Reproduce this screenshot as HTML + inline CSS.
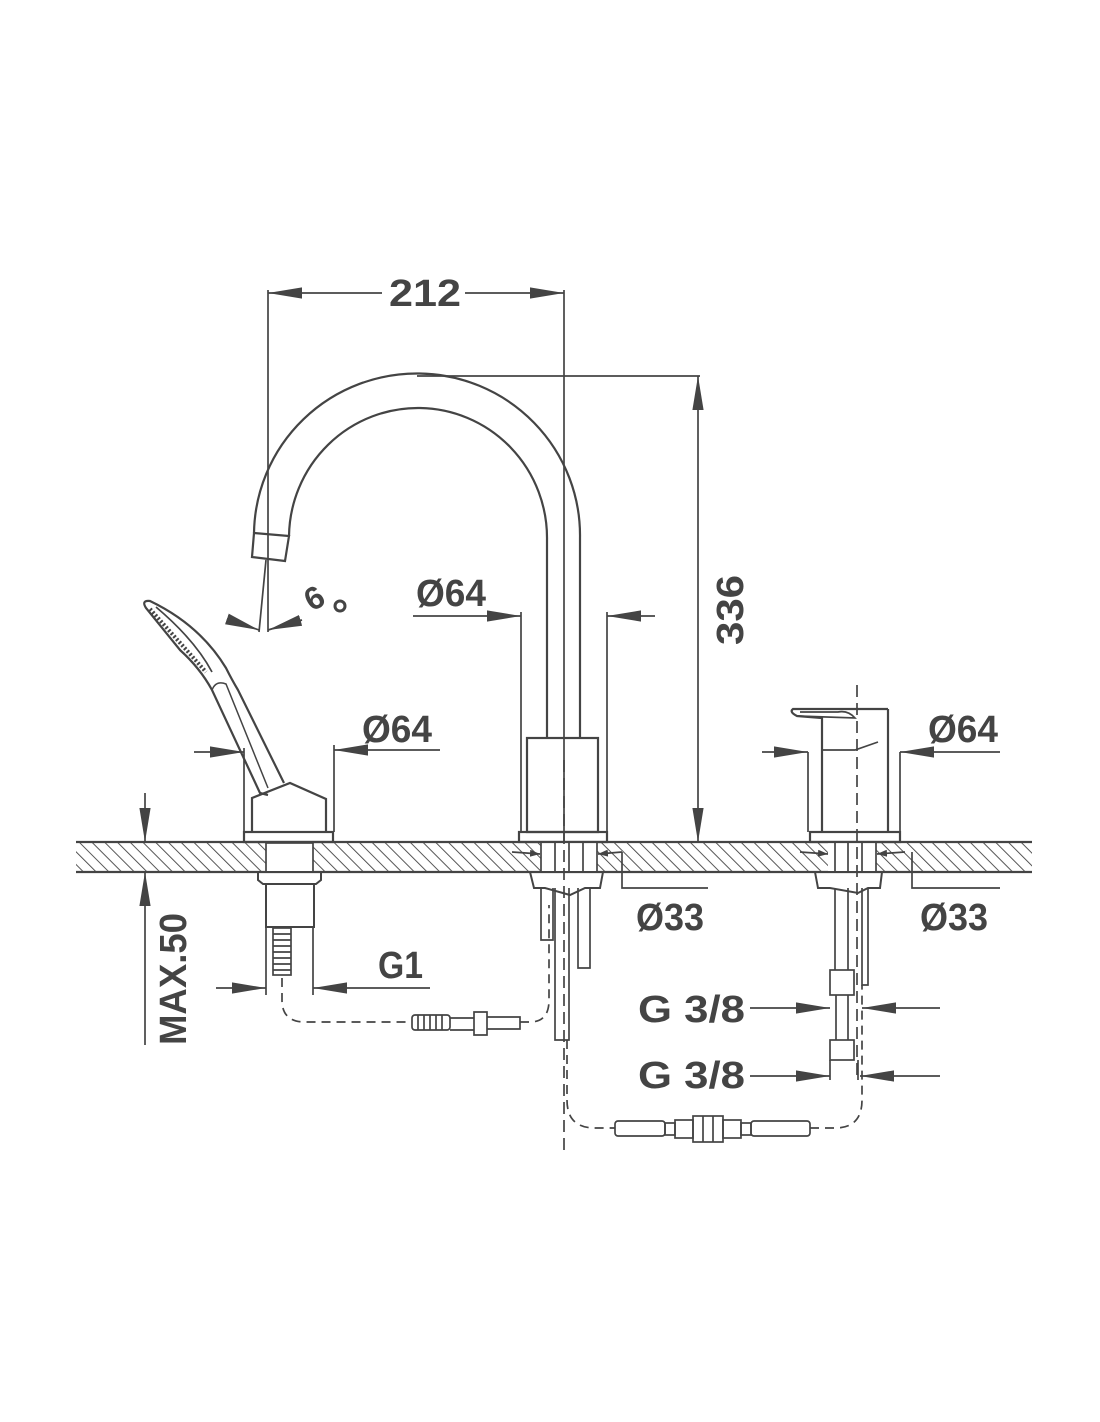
<!DOCTYPE html>
<html><head><meta charset="utf-8"><style>
html,body{margin:0;padding:0;background:#fff}
svg{display:block}
text{font-family:"Liberation Sans Narrow","Liberation Sans",sans-serif;font-weight:bold;fill:#444}
</style></head><body>
<svg width="1100" height="1422" viewBox="0 0 1100 1422" xmlns="http://www.w3.org/2000/svg">
<defs>
<pattern id="h" width="9" height="9" patternUnits="userSpaceOnUse" patternTransform="rotate(-45)">
<line x1="0" y1="0" x2="0" y2="9" stroke="#444" stroke-width="1.8"/>
</pattern>
<marker id="a" viewBox="0 0 10 10" refX="10" refY="5" markerWidth="10" markerHeight="10" markerUnits="userSpaceOnUse" orient="auto-start-reverse">
<path d="M0,1.5 L10,5 L0,8.5z" fill="#444"/></marker>
<marker id="b" viewBox="0 0 10 10" refX="10" refY="5" markerWidth="34" markerHeight="14" markerUnits="userSpaceOnUse" orient="auto-start-reverse" preserveAspectRatio="none">
<path d="M0,1 L10,5 L0,9z" fill="#444"/></marker>
</defs>
<g stroke="#444" fill="none" stroke-width="1.7">
<!-- deck -->
<rect x="76" y="842" width="956" height="30" fill="url(#h)" stroke="none"/>
<line x1="76" y1="842" x2="1032" y2="842" stroke-width="2.2"/>
<line x1="76" y1="872" x2="1032" y2="872" stroke-width="2.2"/>
<rect x="266" y="843" width="47" height="28" fill="#fff" stroke="none"/>
<rect x="541" y="843" width="56" height="28" fill="#fff" stroke="none"/>
<rect x="828" y="843" width="48" height="28" fill="#fff" stroke="none"/>

<!-- spout -->
<path d="M580,738 L580,538 A163,162 0 0 0 254,533" stroke-width="2.2"/>
<path d="M547,738 L547,540 A129,130 0 0 0 289,536" stroke-width="2.2"/>
<path d="M254,533 L252,557 L285,561 L289,536 Z" stroke-width="2.2"/>
<rect x="527" y="738" width="71" height="94" stroke-width="2.2"/>
<rect x="519" y="832" width="88" height="10" stroke-width="2.2"/>
<line x1="564" y1="290" x2="564" y2="842"/>
<line x1="268" y1="290" x2="268" y2="632"/>
<line x1="417" y1="376" x2="700" y2="376"/>
<line x1="521" y1="612" x2="521" y2="832"/>
<line x1="607" y1="612" x2="607" y2="832"/>
<line x1="564" y1="760" x2="564" y2="1150" stroke-dasharray="12,6"/>
<line x1="268" y1="293" x2="382" y2="293" marker-start="url(#b)"/>
<line x1="465" y1="293" x2="564" y2="293" marker-end="url(#b)"/>
<line x1="698" y1="376" x2="698" y2="842" marker-start="url(#b)" marker-end="url(#b)"/>
<line x1="413" y1="616" x2="521" y2="616" marker-end="url(#b)"/>
<line x1="655" y1="616" x2="607" y2="616" marker-end="url(#b)"/>
<line x1="266" y1="560" x2="259" y2="632"/>
<line x1="230" y1="620" x2="259" y2="630" marker-end="url(#b)"/>
<line x1="302" y1="620" x2="268" y2="630" marker-end="url(#b)"/>

<!-- hand shower -->
<rect x="244" y="832" width="89" height="10" stroke-width="2.2"/>
<path d="M252,832 L252,798 L290,783 L326,799 L326,832" stroke-width="2.2"/>
<path d="M268,795 L260,793 L212,690 Q200,668 180,650 L146,608 Q141,600 150,601 Q200,625 226,668 Q232,680 238,690 L284,783" stroke-width="2.2"/>
<path d="M212,690 Q216,680 226,684 L268,788" stroke-width="1.5"/>
<path d="M150,609 L206,672" stroke-dasharray="2,2" stroke-width="4"/>
<path d="M156,607 Q195,640 212,672"/>
<line x1="244" y1="748" x2="244" y2="832"/>
<line x1="334" y1="745" x2="334" y2="832"/>
<line x1="194" y1="752" x2="244" y2="752" marker-end="url(#b)"/>
<line x1="440" y1="750" x2="334" y2="750" marker-end="url(#b)"/>
<rect x="266" y="843" width="47" height="29"/>
<path d="M258,872 L321,872 L321,880 L316,884 L263,884 L258,880 Z" stroke-width="2"/>
<rect x="266" y="884" width="48" height="43" stroke-width="2"/>
<rect x="273" y="928" width="18" height="47"/>
<path d="M273,934 H291 M273,940 H291 M273,946 H291 M273,952 H291 M273,958 H291 M273,964 H291 M273,970 H291"/>
<line x1="266" y1="927" x2="266" y2="995"/>
<line x1="313" y1="927" x2="313" y2="995"/>
<line x1="216" y1="988" x2="266" y2="988" marker-end="url(#b)"/>
<line x1="430" y1="988" x2="313" y2="988" marker-end="url(#b)"/>
<path d="M282,978 L282,1000 Q282,1022 305,1022 L412,1022 M520,1022 L530,1022 Q549,1022 549,1000 L549,905" stroke-dasharray="9,6"/>
<rect x="412" y="1015" width="38" height="15" rx="3"/>
<path d="M418,1015 V1030 M424,1015 V1030 M430,1015 V1030 M436,1015 V1030 M442,1015 V1030"/>
<path d="M450,1018 L474,1018 L474,1030 L450,1030 M474,1012 H487 V1035 H474 Z M487,1017 H520 V1029 H487"/>
<line x1="145" y1="793" x2="145" y2="842" marker-end="url(#b)"/>
<line x1="145" y1="1045" x2="145" y2="872" marker-end="url(#b)"/>

<!-- central below deck -->
<path d="M541,843 V872 M555,843 V872 M569,843 V872 M583,843 V872 M597,843 V872"/>
<path d="M530,872 L603,872 L600,888 L585,888 L570,895 L545,888 L534,888 Z" stroke-width="2"/>
<path d="M541,888 V940 H553 V888 M555,888 V1040 H569 V888 M578,888 V968 H590 V888"/>
<line x1="512" y1="852" x2="540" y2="854" marker-end="url(#a)"/>
<line x1="622" y1="852" x2="598" y2="854" marker-end="url(#a)"/>
<path d="M622,852 V888 H708"/>
<path d="M567,1040 L567,1100 Q567,1128 595,1128 L615,1128 M810,1128 L835,1128 Q862,1128 862,1100 L862,985" stroke-dasharray="9,6"/>
<rect x="615" y="1121" width="50" height="15" rx="3"/>
<rect x="665" y="1123" width="10" height="12"/>
<rect x="675" y="1120" width="18" height="18"/>
<rect x="693" y="1116" width="30" height="26"/>
<path d="M703,1116 V1142 M713,1116 V1142"/>
<rect x="723" y="1120" width="18" height="18"/>
<rect x="741" y="1123" width="10" height="12"/>
<rect x="751" y="1121" width="59" height="15" rx="3"/>

<!-- right mixer -->
<line x1="857" y1="685" x2="857" y2="1080" stroke-dasharray="12,6"/>
<path d="M888,709 L793,709 Q789,712 797,716 L822,718 L822,832 M888,709 L888,832" stroke-width="2.2"/>
<path d="M797,716 L855,718 Q848,710 838,712 L800,712"/>
<path d="M822,750 L855,750 L878,742"/>
<rect x="810" y="832" width="90" height="10" stroke-width="2.2"/>
<line x1="808" y1="752" x2="808" y2="832"/>
<line x1="900" y1="752" x2="900" y2="832"/>
<line x1="762" y1="752" x2="808" y2="752" marker-end="url(#b)"/>
<line x1="1000" y1="752" x2="900" y2="752" marker-end="url(#b)"/>
<path d="M835,843 V872 M848,843 V872 M862,843 V872 M876,843 V872"/>
<path d="M815,872 L882,872 L880,888 L868,888 L858,893 L830,888 L818,888 Z" stroke-width="2"/>
<path d="M835,888 V970 M848,888 V970 M862,888 V985 H868 V888"/>
<rect x="830" y="970" width="24" height="25"/>
<path d="M836,995 V1040 M848,995 V1040"/>
<rect x="830" y="1040" width="24" height="20"/>
<line x1="830" y1="1060" x2="830" y2="1080"/>
<line x1="858" y1="1060" x2="858" y2="1080"/>
<line x1="800" y1="852" x2="828" y2="854" marker-end="url(#a)"/>
<line x1="905" y1="852" x2="877" y2="854" marker-end="url(#a)"/>
<path d="M912,852 V888 H1000"/>
<line x1="750" y1="1008" x2="830" y2="1008" marker-end="url(#b)"/>
<line x1="940" y1="1008" x2="862" y2="1008" marker-end="url(#b)"/>
<line x1="750" y1="1076" x2="830" y2="1076" marker-end="url(#b)"/>
<line x1="940" y1="1076" x2="860" y2="1076" marker-end="url(#b)"/>
</g>
<g font-size="38">
<text x="389" y="306" textLength="72" lengthAdjust="spacingAndGlyphs">212</text>
<text x="416" y="606" textLength="70" lengthAdjust="spacingAndGlyphs">Ø64</text>
<text x="362" y="742" textLength="70" lengthAdjust="spacingAndGlyphs">Ø64</text>
<text x="928" y="742" textLength="70" lengthAdjust="spacingAndGlyphs">Ø64</text>
<text x="636" y="930" textLength="68" lengthAdjust="spacingAndGlyphs">Ø33</text>
<text x="920" y="930" textLength="68" lengthAdjust="spacingAndGlyphs">Ø33</text>
<text x="378" y="978" textLength="45" lengthAdjust="spacingAndGlyphs">G1</text>
<text x="638" y="1022" textLength="107" lengthAdjust="spacingAndGlyphs">G 3/8</text>
<text x="638" y="1088" textLength="107" lengthAdjust="spacingAndGlyphs">G 3/8</text>
<text transform="translate(743,645) rotate(-90)" textLength="70" lengthAdjust="spacingAndGlyphs">336</text>
<text transform="translate(186,1045) rotate(-90)" textLength="132" lengthAdjust="spacingAndGlyphs">MAX.50</text>
<text transform="translate(312,612) rotate(-30)" font-size="32">6</text>
<circle cx="340" cy="606" r="5" fill="none" stroke="#444" stroke-width="3"/>
</g>
</svg>
</body></html>
